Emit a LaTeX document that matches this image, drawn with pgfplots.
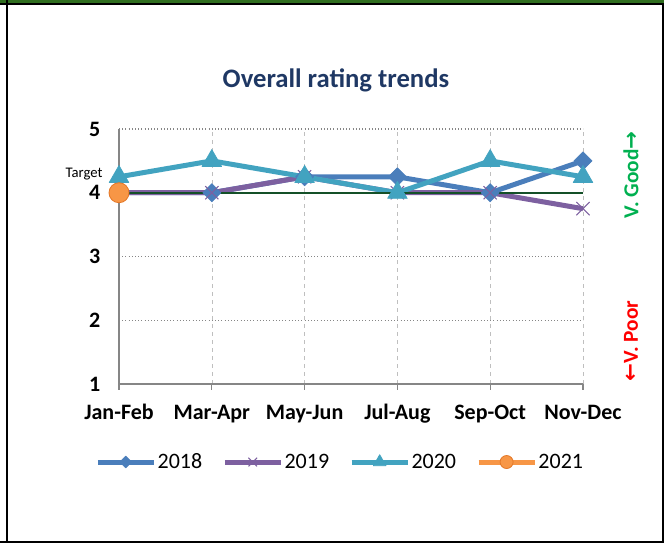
\documentclass[border=0pt]{standalone}
\usepackage{fontspec}
\setmainfont{Carlito}
\newfontfamily\symfont{DejaVu Sans}
\usepackage{pgfplots}
\pgfplotsset{compat=1.18}

\definecolor{c2018}{RGB}{74,126,187}
\definecolor{c2019}{RGB}{125,96,160}
\definecolor{c2020}{RGB}{66,163,192}
\definecolor{c2021}{RGB}{247,150,70}
\definecolor{c2021edge}{RGB}{228,120,40}
\definecolor{target}{RGB}{20,80,40}
\definecolor{titleblue}{RGB}{31,56,100}
\definecolor{gridgrey}{RGB}{134,134,134}
\definecolor{vgood}{RGB}{0,176,80}
\definecolor{vpoor}{RGB}{255,0,0}
\definecolor{band}{RGB}{48,110,32}

\begin{document}
\begin{tikzpicture}[x=0.75pt,y=0.75pt]
% page frame, in pixel units of the reference
\useasboundingbox (0,0) rectangle (664,545);
\fill[band] (0,542) rectangle (664,545);
\fill[black] (0,540) rectangle (663.5,542);
\fill[black] (6,2) rectangle (8,545);
\fill[black] (0,2) rectangle (663.5,4);
\fill[black] (662,2) rectangle (663.5,542);

\begin{axis}[
  at={(89.25pt,120.75pt)}, anchor=south west,
  scale only axis,
  width=348pt, height=191.25pt,
  xmin=0, xmax=5, ymin=1, ymax=5,
  xtick={0,...,5},
  xticklabels={Jan-Feb,Mar-Apr,May-Jun,Jul-Aug,Sep-Oct,Nov-Dec},
  ytick={1,...,5},
  yticklabels={1,2,3,4,5},
  axis lines*=left,
  axis line style={gridgrey, line width=1pt},
  tick align=outside,
  major tick length=4.5pt,
  xtick style={gridgrey, line width=1pt},
  ytick style={draw=none},
  xmajorgrids, ymajorgrids,
  x grid style={gray!50, dashed, line width=0.4pt},
  y grid style={gridgrey, dotted, line width=1pt},
  ticklabel style={font=\bfseries\fontsize{16.5}{19}\selectfont},
  xticklabel style={yshift=-11.5pt, text height=0.7em, text depth=0.2em},
  yticklabel style={xshift=-6pt},
  legend columns=4,
  legend style={at={(0.476,-0.306)}, anchor=center, draw=none,
    font=\fontsize{16.5}{19}\selectfont,
    nodes={inner sep=1pt},
    /tikz/every even column/.append style={column sep=14pt}},
  legend image code/.code={%
    \draw[mark repeat=2,mark phase=2,#1,every mark/.append style={scale=0.65}]
      plot coordinates {(0pt,0pt) (21pt,0pt) (42pt,0pt)};},
  every axis plot/.append style={line width=3.75pt, line join=round},
]
\addplot[c2018, mark=square*, mark size=4.8pt,
  mark options={rotate=45, fill=c2018, line width=0.5pt}]
  coordinates {(0,4) (1,4) (2,4.25) (3,4.25) (4,4) (5,4.5)};
\addlegendentry{2018}
\addplot[c2019, mark=x, mark size=7pt,
  mark options={line width=0.8pt}]
  coordinates {(0,4) (1,4) (2,4.25) (3,4) (4,4) (5,3.75)};
\addlegendentry{2019}
\addplot[c2020, mark=triangle*, mark size=8.5pt,
  mark options={fill=c2020, line width=0.5pt}]
  coordinates {(0,4.25) (1,4.5) (2,4.25) (3,4) (4,4.5) (5,4.25)};
\addlegendentry{2020}
\addplot[c2021, mark=*, mark size=7.5pt,
  mark options={fill=c2021, draw=c2021edge, line width=0.6pt}]
  coordinates {(0,4)};
\addlegendentry{2021}
\addplot[target, line width=1.5pt, forget plot]
  coordinates {(0,4) (5,4)};
\end{axis}

\node[font=\bfseries\fontsize{20}{23}\selectfont, text=titleblue]
  at (336,465) {Overall rating trends};
\node[font=\fontsize{11}{13}\selectfont] at (84,371) {Target};
\node[rotate=90, text=vgood, font=\bfseries\fontsize{16}{18}\selectfont]
  at (631,370) {V. Good{\symfont\bfseries →}};
\node[rotate=90, text=vpoor, font=\bfseries\fontsize{16}{18}\selectfont]
  at (631,204) {{\symfont\bfseries ←}V. Poor};
\end{tikzpicture}
\end{document}
